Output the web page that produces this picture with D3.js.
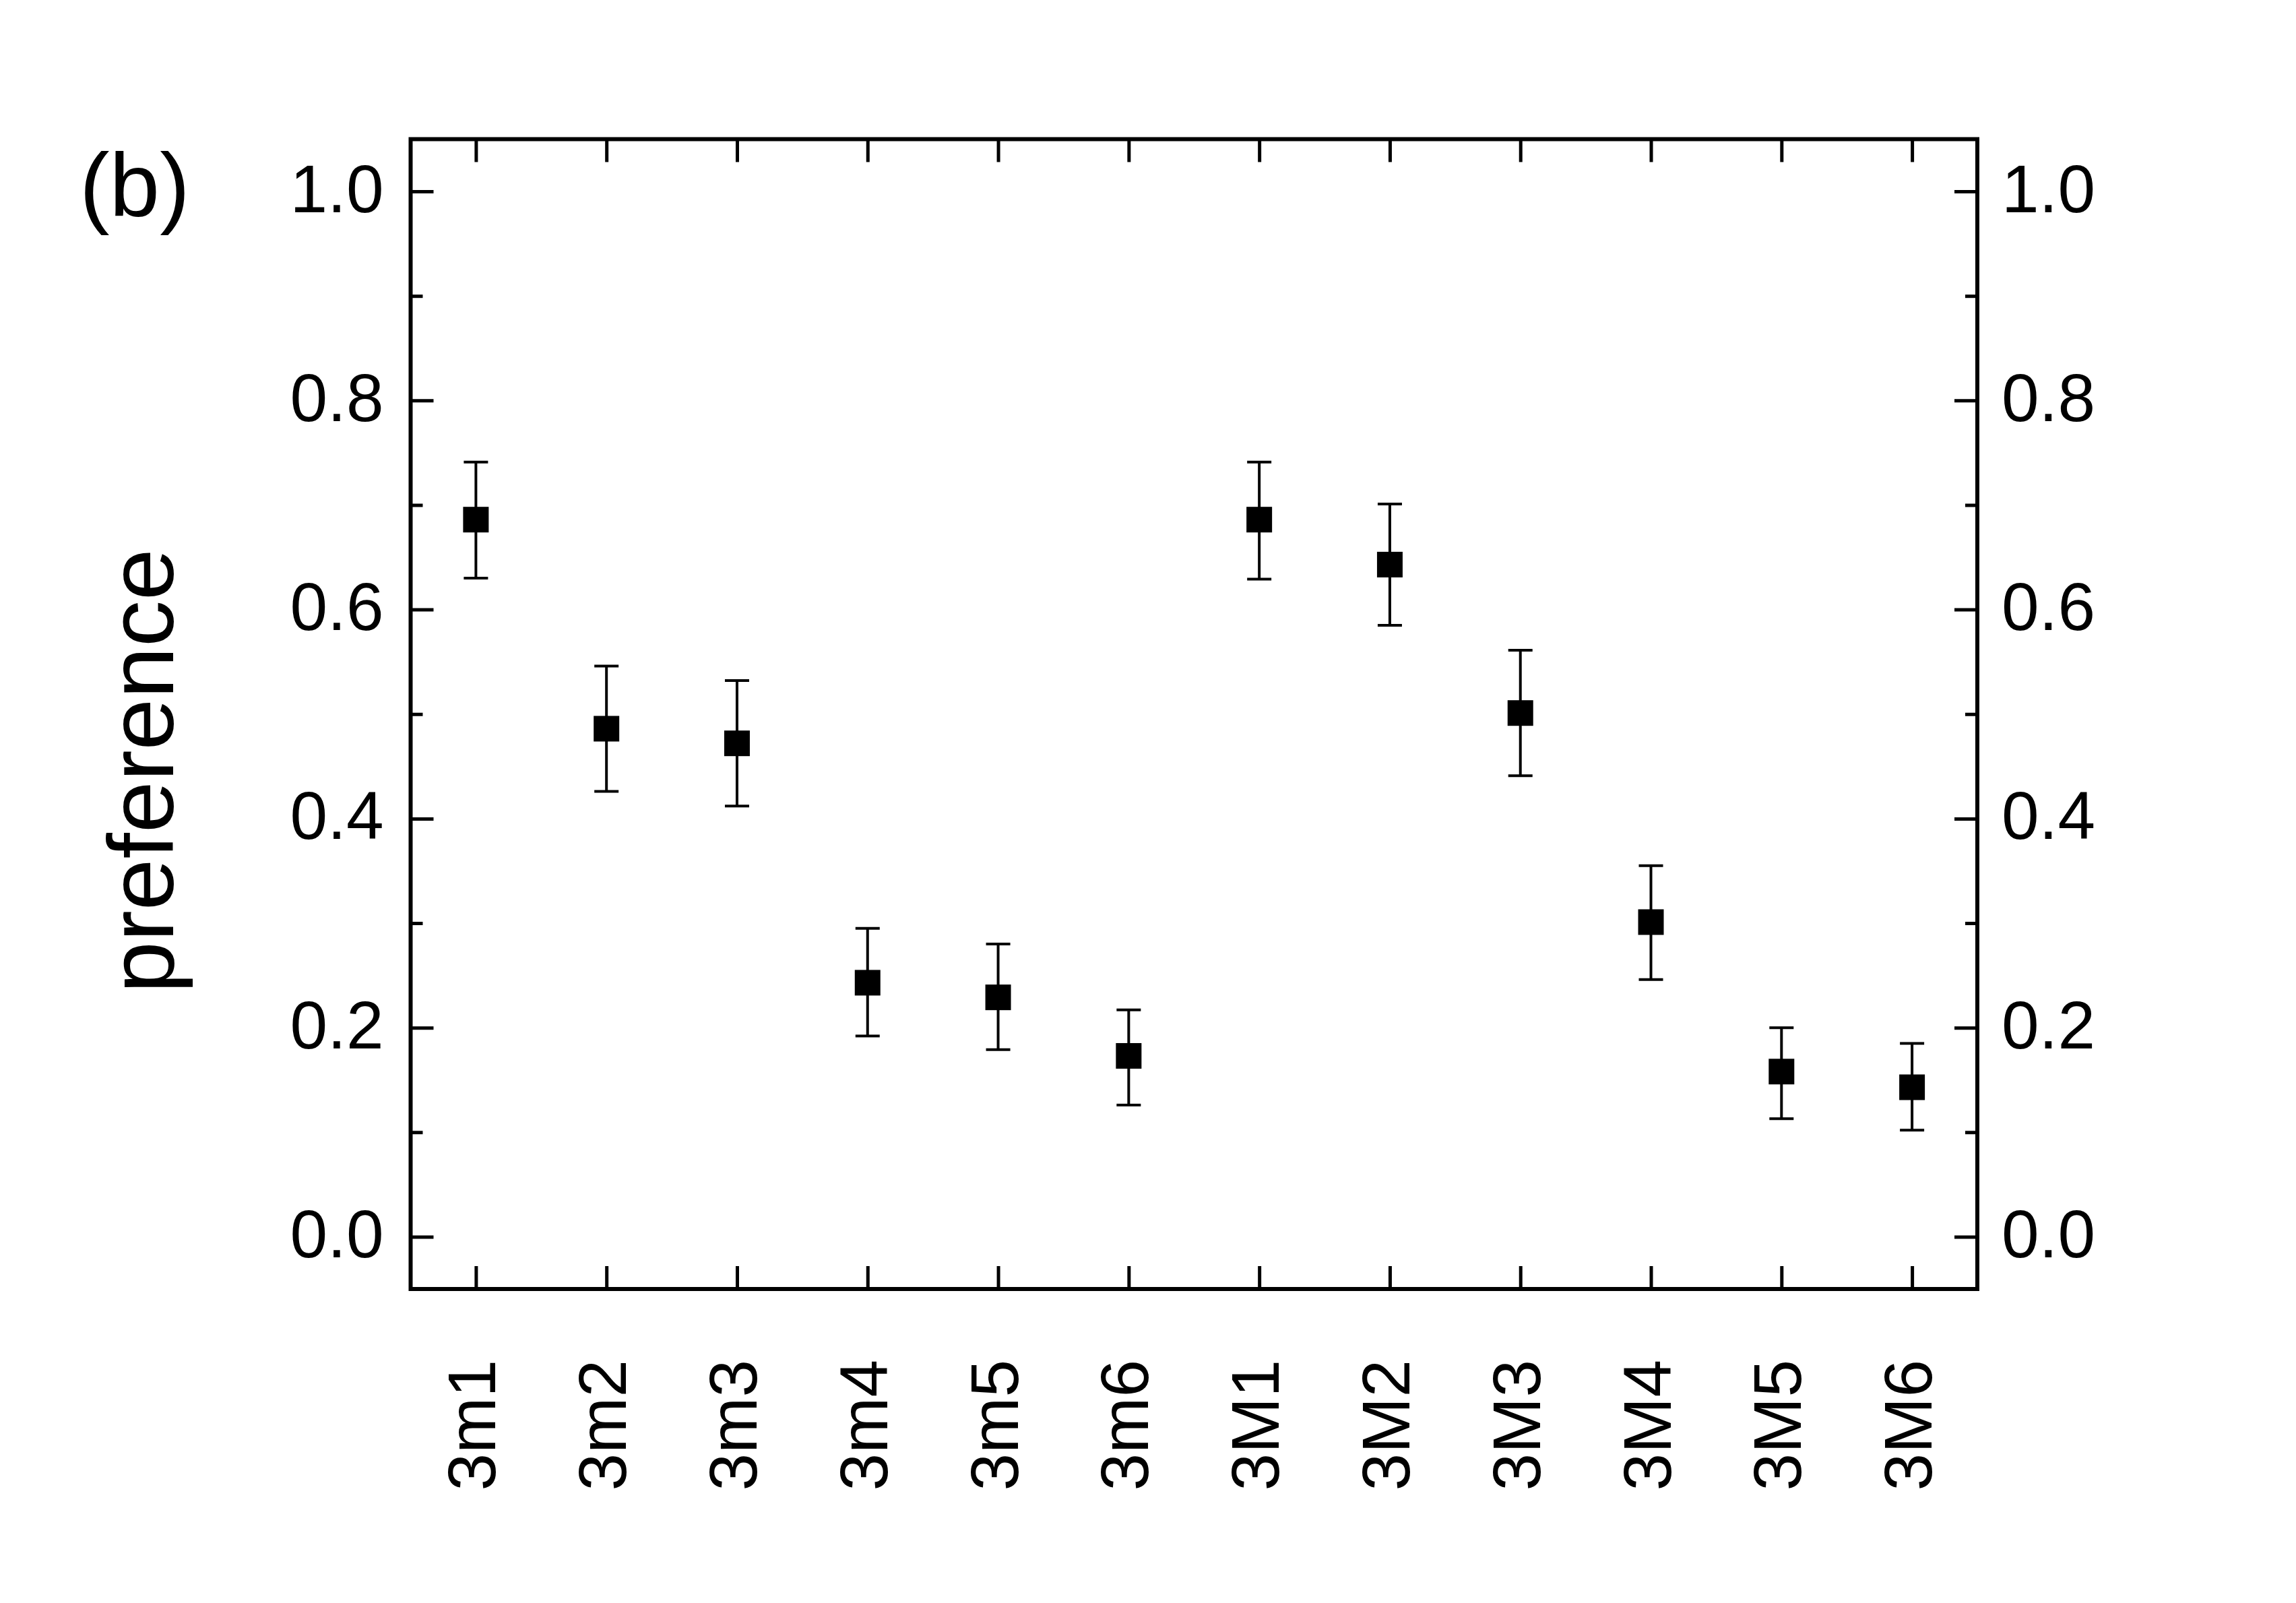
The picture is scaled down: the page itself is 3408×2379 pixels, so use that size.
<!DOCTYPE html>
<html>
<head>
<meta charset="utf-8">
<script src="https://cdn.jsdelivr.net/npm/d3@7"></script>
<style>
  body { margin: 0; background: #fff; }
  text { font-family: "Liberation Sans", Arial, sans-serif; fill: #000; }
</style>
</head>
<body>
<script>
// data
const categories = ["3m1", "3m2", "3m3", "3m4", "3m5", "3m6", "3M1", "3M2", "3M3", "3M4", "3M5", "3M6"];
const preference = [0.686, 0.486, 0.472, 0.243, 0.229, 0.173, 0.686, 0.643, 0.501, 0.301, 0.158, 0.143];
const errHigh = [0.741, 0.546, 0.532, 0.295, 0.280, 0.217, 0.741, 0.701, 0.561, 0.355, 0.200, 0.185];
const errLow = [0.630, 0.426, 0.412, 0.192, 0.179, 0.126, 0.629, 0.585, 0.441, 0.246, 0.113, 0.102];
const majorTicks = [0.0, 0.2, 0.4, 0.6, 0.8, 1.0];
const minorTicks = [0.1, 0.3, 0.5, 0.7, 0.9];

const width = 3408, height = 2379;
const margin = { left: 609.5, right: 2935, top: 206.5, bottom: 1913 };

const svg = d3.select("body").append("svg")
  .attr("width", width)
  .attr("height", height);

const x = d3.scalePoint()
  .domain(categories)
  .range([margin.left, margin.right])
  .padding(0.5);

const y = d3.scaleLinear()
  .domain([-0.05, 1.05])
  .range([margin.bottom, margin.top]);

const fmt = d3.format(".1f");

// left axis (ticks inward)
const leftAxis = svg.append("g")
  .attr("transform", `translate(${margin.left},0)`)
  .call(d3.axisLeft(y).tickValues(majorTicks).tickFormat(fmt).tickSize(-34).tickPadding(40));

// right axis
const rightAxis = svg.append("g")
  .attr("transform", `translate(${margin.right},0)`)
  .call(d3.axisRight(y).tickValues(majorTicks).tickFormat(fmt).tickSize(-34).tickPadding(36));

[leftAxis, rightAxis].forEach(g => {
  g.select(".domain").remove();
  g.selectAll(".tick line").attr("stroke", "#000").attr("stroke-width", 5);
  g.selectAll(".tick text")
    .attr("font-size", 100)
    .attr("dy", 30)
    .attr("fill", "#000")
    .style("font-family", '"Liberation Sans", Arial, sans-serif');
});

// minor y ticks
const minorLeft = svg.append("g")
  .attr("transform", `translate(${margin.left},0)`)
  .call(d3.axisLeft(y).tickValues(minorTicks).tickFormat("").tickSize(-18));
const minorRight = svg.append("g")
  .attr("transform", `translate(${margin.right},0)`)
  .call(d3.axisRight(y).tickValues(minorTicks).tickFormat("").tickSize(-18));
[minorLeft, minorRight].forEach(g => {
  g.select(".domain").remove();
  g.selectAll(".tick line").attr("stroke", "#000").attr("stroke-width", 5);
});

// bottom and top x ticks
const bottomAxis = svg.append("g")
  .attr("transform", `translate(0,${margin.bottom})`)
  .call(d3.axisBottom(x).tickSize(-34).tickFormat(""));
const topAxis = svg.append("g")
  .attr("transform", `translate(0,${margin.top})`)
  .call(d3.axisTop(x).tickSize(-34).tickFormat(""));
[bottomAxis, topAxis].forEach(g => {
  g.select(".domain").remove();
  g.selectAll(".tick line").attr("stroke", "#000").attr("stroke-width", 5);
});

// rotated category labels
svg.append("g")
  .selectAll("text")
  .data(categories)
  .join("text")
  .attr("transform", d => `translate(${x(d) + 29},2018) rotate(-90)`)
  .attr("text-anchor", "end")
  .attr("font-size", 100)
  .text(d => d);

// frame
svg.append("rect")
  .attr("x", margin.left)
  .attr("y", margin.top)
  .attr("width", margin.right - margin.left)
  .attr("height", margin.bottom - margin.top)
  .attr("fill", "none")
  .attr("stroke", "#000")
  .attr("stroke-width", 6);

// error bars
const capW = 36;
const err = svg.append("g")
  .attr("stroke", "#000")
  .attr("stroke-width", 4);

err.selectAll("line.stem")
  .data(categories)
  .join("line")
  .attr("class", "stem")
  .attr("x1", d => x(d))
  .attr("x2", d => x(d))
  .attr("y1", (d, i) => y(errHigh[i]))
  .attr("y2", (d, i) => y(errLow[i]));

err.selectAll("line.capHigh")
  .data(categories)
  .join("line")
  .attr("class", "capHigh")
  .attr("x1", d => x(d) - capW / 2)
  .attr("x2", d => x(d) + capW / 2)
  .attr("y1", (d, i) => y(errHigh[i]))
  .attr("y2", (d, i) => y(errHigh[i]));

err.selectAll("line.capLow")
  .data(categories)
  .join("line")
  .attr("class", "capLow")
  .attr("x1", d => x(d) - capW / 2)
  .attr("x2", d => x(d) + capW / 2)
  .attr("y1", (d, i) => y(errLow[i]))
  .attr("y2", (d, i) => y(errLow[i]));

// square markers
const sq = 38;
svg.append("g")
  .selectAll("rect")
  .data(categories)
  .join("rect")
  .attr("x", d => x(d) - sq / 2)
  .attr("y", (d, i) => y(preference[i]) - sq / 2)
  .attr("width", sq)
  .attr("height", sq)
  .attr("fill", "#000");

// y axis title
svg.append("text")
  .attr("transform", "translate(257,1144) rotate(-90)")
  .attr("text-anchor", "middle")
  .attr("font-size", 138)
  .text("preference");

// panel label
svg.append("text")
  .attr("x", 118)
  .attr("y", 321)
  .attr("font-size", 134)
  .text("(b)");
</script>
</body>
</html>
